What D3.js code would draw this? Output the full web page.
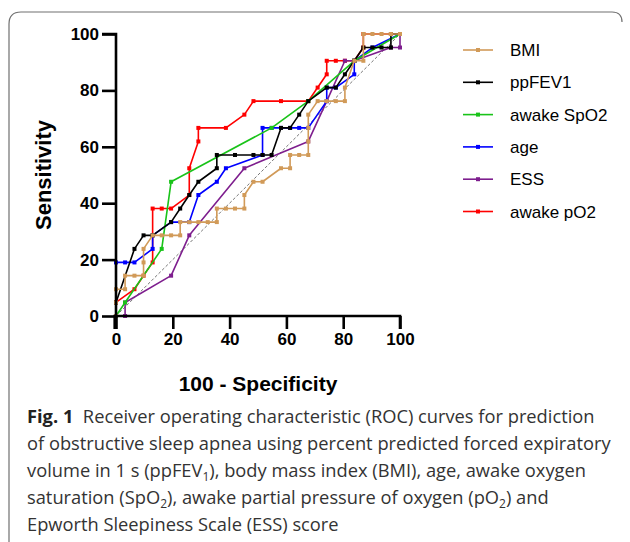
<!DOCTYPE html>
<html><head><meta charset="utf-8">
<script src="https://cdn.jsdelivr.net/npm/d3@7"></script>
<style>html,body{margin:0;padding:0;background:#fff;}svg{display:block;}</style>
</head><body>
<svg id="c" width="630" height="542"></svg>
<script>
// ---- data (percent) ----
const xTicks = [0, 20, 40, 60, 80, 100];
const yTicks = [0, 20, 40, 60, 80, 100];
const seriesNames = ["BMI", "ppFEV1", "awake SpO2", "age", "ESS", "awake pO2"];
const seriesColors = ["#D19A58", "#000000", "#19C319", "#0000FF", "#7E1E8E", "#FF0000"];

const bmiX = [0,0,0,3.2,3.2,6.5,9.7,9.7,9.7,12.9,16.1,19.4,22.6,22.6,25.8,29.0,32.3,35.5,35.5,38.7,41.9,45.2,45.2,48.4,51.6,58.1,61.3,61.3,64.5,67.7,67.7,67.7,67.7,71.0,74.2,77.4,80.6,80.6,83.9,87.1,87.1,90.3,93.5,96.8,100];
const bmiY = [0,4.8,9.5,9.5,14.3,14.3,14.3,19.0,23.8,28.6,28.6,28.6,28.6,33.3,33.3,33.3,33.3,33.3,38.1,38.1,38.1,38.1,42.9,47.6,47.6,52.4,52.4,57.1,57.1,57.1,61.9,66.7,71.4,76.2,76.2,76.2,76.2,81.0,90.5,90.5,100,100,100,100,100];

const fevX = [0,0,6.5,9.7,12.9,19.4,22.6,25.8,29.0,35.5,35.5,41.9,48.4,51.6,54.8,58.1,61.3,64.5,67.7,74.2,77.4,80.6,83.9,87.1,90.3,93.5,96.8,96.8,100];
const fevY = [0,4.8,23.8,28.6,28.6,33.3,38.1,42.9,47.6,52.4,57.1,57.1,57.1,57.1,57.1,66.7,66.7,71.4,76.2,81.0,81.0,85.7,90.5,95.2,95.2,95.2,95.2,100,100];

const spo2X = [0,3.2,16.1,19.4,54.8,67.7,83.9,100];
const spo2Y = [0,4.8,23.8,47.6,66.7,76.2,90.5,100];

const ageX = [0,0,3.2,6.5,12.9,12.9,19.4,25.8,29.0,35.5,38.7,51.6,51.6,54.8,58.1,61.3,64.5,67.7,74.2,74.2,77.4,83.9,83.9,90.3,100];
const ageY = [0,19.0,19.0,19.0,23.8,28.6,33.3,33.3,42.9,47.6,52.4,57.1,66.7,66.7,66.7,66.7,66.7,66.7,76.2,81.0,81.0,85.7,90.5,95.2,100];

const essX = [0,3.2,3.2,19.4,25.8,45.2,67.7,74.2,80.6,83.9,96.8,100,100];
const essY = [0,0,4.8,14.3,28.6,52.4,61.9,76.2,90.5,90.5,95.2,95.2,100];

const po2X = [0,0,6.5,9.7,12.9,12.9,16.1,19.4,25.8,25.8,29.0,29.0,38.7,45.2,48.4,58.1,67.7,71.0,74.2,74.2,77.4,80.6,83.9,87.1,87.1,100];
const po2Y = [0,4.8,9.5,14.3,19.0,38.1,38.1,38.1,42.9,52.4,61.9,66.7,66.7,71.4,76.2,76.2,76.2,81.0,85.7,90.5,90.5,90.5,90.5,95.2,100,100];

const captionLines = [
  [{t:"Fig. 1", b:true}, {t:"  Receiver operating characteristic (ROC) curves for prediction"}],
  [{t:"of obstructive sleep apnea using percent predicted forced expiratory"}],
  [{t:"volume in 1 s (ppFEV"}, {t:"1", sub:true}, {t:"), body mass index (BMI), age, awake oxygen"}],
  [{t:"saturation (SpO"}, {t:"2", sub:true}, {t:"), awake partial pressure of oxygen (pO"}, {t:"2", sub:true}, {t:") and"}],
  [{t:"Epworth Sleepiness Scale (ESS) score"}]
];

// ---- drawing ----
const svg = d3.select("#c");
const series = [
  {x: bmiX, y: bmiY}, {x: fevX, y: fevY}, {x: spo2X, y: spo2Y},
  {x: ageX, y: ageY}, {x: essX, y: essY}, {x: po2X, y: po2Y}
].map((s, i) => ({name: seriesNames[i], color: seriesColors[i], pts: s.x.map((v, j) => [v, s.y[j]])}));

// frame
svg.append("path")
  .attr("d", "M9,542 L9,24 Q9,12 21,12 L612,12 Q622,12 622,22")
  .attr("fill", "none").attr("stroke", "#707070").attr("stroke-width", 1.2);

const x = d3.scaleLinear().domain([0, 100]).range([116, 400]);
const y = d3.scaleLinear().domain([0, 100]).range([316, 34]);

// diagonal reference
svg.append("line")
  .attr("x1", x(0)).attr("y1", y(0)).attr("x2", x(100)).attr("y2", y(100))
  .attr("stroke", "#777").attr("stroke-width", 1).attr("stroke-dasharray", "3,2");

const line = d3.line().x(d => x(d[0])).y(d => y(d[1]));
const drawOrder = [5, 4, 3, 2, 1, 0];
drawOrder.forEach(i => {
  const s = series[i];
  const g = svg.append("g");
  g.append("path").attr("d", line(s.pts)).attr("fill", "none")
    .attr("stroke", s.color).attr("stroke-width", 1.6).attr("stroke-linejoin", "round");
  g.selectAll("rect").data(s.pts).join("rect")
    .attr("x", d => x(d[0]) - 2).attr("y", d => y(d[1]) - 2)
    .attr("width", 4).attr("height", 4).attr("fill", s.color);
});

// axes
const yAxis = d3.axisLeft(y).tickValues(yTicks).tickSize(14).tickPadding(3);
const xAxis = d3.axisBottom(x).tickValues(xTicks).tickSize(13).tickPadding(4);
const gy = svg.append("g").attr("transform", `translate(${x(0)},0)`).call(yAxis);
const gx = svg.append("g").attr("transform", `translate(0,${y(0)})`).call(xAxis);
[gx, gy].forEach(g => {
  g.select(".domain").attr("stroke", "#000").attr("stroke-width", 2.6);
  g.selectAll(".tick line").attr("stroke", "#000").attr("stroke-width", 2.6);
  g.selectAll(".tick text").attr("fill", "#000")
    .style("font-family", "'Liberation Sans', Arial, sans-serif")
    .style("font-size", "17px").style("font-weight", "bold");
});
gx.select(".domain").attr("d", `M${x(0)-1.3},13V0H${x(100)}V13`);
gy.select(".domain").attr("d", `M-14,${y(100)}H0V${y(0)+1.3}`);

// axis titles
svg.append("text").attr("x", 258).attr("y", 391).attr("text-anchor", "middle")
  .style("font-family", "'Liberation Sans', Arial, sans-serif").style("font-size", "21px")
  .style("font-weight", "bold").text("100 - Specificity");
svg.append("text").attr("transform", "translate(51,175) rotate(-90)").attr("text-anchor", "middle")
  .style("font-family", "'Liberation Sans', Arial, sans-serif").style("font-size", "22px")
  .style("font-weight", "bold").text("Sensitivity");

// legend
const lg = svg.append("g");
series.forEach((s, i) => {
  const yy = 50 + i * 32.3;
  lg.append("line").attr("x1", 463).attr("x2", 493).attr("y1", yy).attr("y2", yy)
    .attr("stroke", s.color).attr("stroke-width", 1.6);
  lg.append("rect").attr("x", 476).attr("y", yy - 2).attr("width", 4).attr("height", 4).attr("fill", s.color);
  lg.append("text").attr("x", 510).attr("y", yy + 6)
    .style("font-family", "'Liberation Sans', Arial, sans-serif").style("font-size", "17px")
    .attr("fill", "#000").text(s.name);
});

// caption
captionLines.forEach((parts, i) => {
  const t = svg.append("text").attr("x", 27).attr("y", 423 + i * 27)
    .attr("xml:space", "preserve")
    .style("font-family", "'Open Sans', 'Noto Sans', sans-serif").style("font-size", "18.3px")
    .attr("fill", "#333");
  parts.forEach((p, k) => {
    const ts = t.append("tspan").text(p.t);
    if (p.b) ts.style("font-weight", "bold").attr("fill", "#222");
    if (p.sub) ts.attr("dy", 4).style("font-size", "12px");
    else if (k > 0 && parts[k - 1].sub) ts.attr("dy", -4);
  });
});
</script>
</body></html>
